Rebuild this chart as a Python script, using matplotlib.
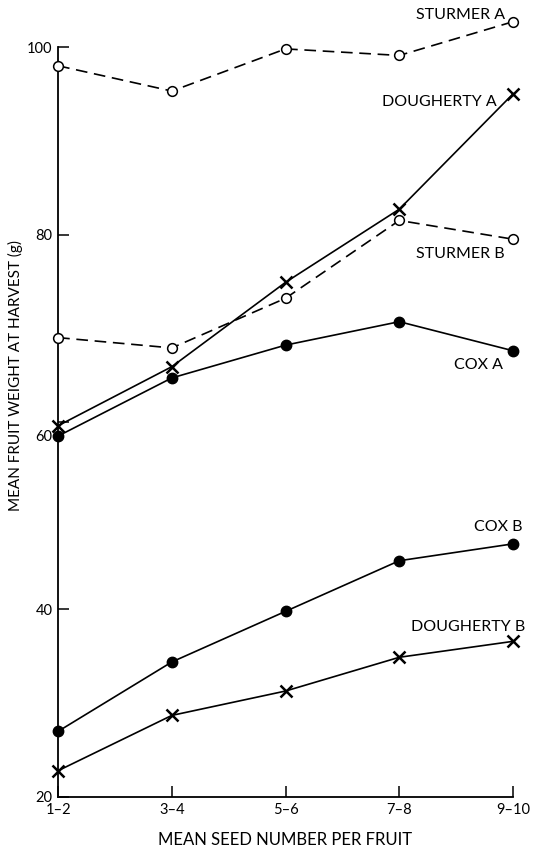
import matplotlib
matplotlib.use("Agg")
import matplotlib.pyplot as plt
import matplotlib.transforms as mtransforms

plt.rcParams['font.family'] = ['Lato', 'DejaVu Sans']

categories = ["1–2", "3–4", "5–6", "7–8", "9–10"]
sturmer_a = [98.0, 95.3, 99.8, 99.1, 102.7]
sturmer_b = [69.0, 67.9, 73.2, 81.5, 79.5]
dougherty_a = [59.6, 65.9, 74.9, 82.7, 95.0]
cox_a = [58.5, 64.7, 68.2, 70.7, 67.6]
cox_b = [27.0, 34.4, 39.8, 45.2, 47.0]
dougherty_b = [22.8, 28.7, 31.3, 34.9, 36.6]
yticks = [20, 40, 60, 80, 100]

fig = plt.figure(figsize=(5.33, 8.5), dpi=100)
ax = fig.add_axes([0.109, 0.0624, 0.8535, 0.9264])
x = list(range(len(categories)))

lw = 1.2
ax.plot(x, sturmer_a, color='black', lw=lw, dashes=(7, 4), marker='o', ms=7,
        mfc='white', mec='black', mew=1.1, clip_on=False, zorder=3)
ax.plot(x, sturmer_b, color='black', lw=lw, dashes=(7, 4), marker='o', ms=7,
        mfc='white', mec='black', mew=1.1, clip_on=False, zorder=3)
ax.plot(x, dougherty_a, color='black', lw=lw, marker='x', ms=8, mew=1.8,
        clip_on=False, zorder=3)
ax.plot(x, cox_a, color='black', lw=lw, marker='o', ms=7.5, mfc='black',
        mec='black', clip_on=False, zorder=3)
ax.plot(x, cox_b, color='black', lw=lw, marker='o', ms=7.5, mfc='black',
        mec='black', clip_on=False, zorder=3)
ax.plot(x, dougherty_b, color='black', lw=lw, marker='x', ms=8, mew=1.8,
        clip_on=False, zorder=3)

ax.set_xlim(0, 4)
ax.set_ylim(20, 104)
ax.spines['top'].set_visible(False)
ax.spines['right'].set_visible(False)
ax.spines['left'].set_bounds(20, 100)
ax.spines['left'].set_linewidth(1.3)
ax.spines['bottom'].set_linewidth(1.3)

ax.set_xticks(x)
ax.set_xticklabels(categories)
ax.set_yticks(yticks)
ax.tick_params(axis='both', direction='in', length=8, width=1.1,
               labelsize=10.5, pad=4)
# the "60" label sits a little lower in the original, beside the markers
lab60 = ax.get_yticklabels()[2]
lab60.set_transform(lab60.get_transform() +
                    mtransforms.ScaledTranslation(0, -14 / 100, fig.dpi_scale_trans))

ax.set_xlabel("MEAN SEED NUMBER PER FRUIT", fontsize=12, labelpad=11)
ax.set_ylabel("MEAN FRUIT WEIGHT AT HARVEST (g)", fontsize=11)
ax.yaxis.set_label_coords(-0.078, 0.535)

fs = 11.5
ax.text(3.93, 102.7, "STURMER A", fontsize=fs, ha='right', va='bottom')
ax.text(3.86, 93.4, "DOUGHERTY A", fontsize=fs, ha='right', va='bottom')
ax.text(3.93, 77.2, "STURMER B", fontsize=fs, ha='right', va='bottom')
ax.text(3.91, 65.3, "COX A", fontsize=fs, ha='right', va='bottom')
ax.text(4.08, 48.1, "COX B", fontsize=fs, ha='right', va='bottom')
ax.text(4.11, 37.4, "DOUGHERTY B", fontsize=fs, ha='right', va='bottom')

fig.savefig("out.png", dpi=100)
